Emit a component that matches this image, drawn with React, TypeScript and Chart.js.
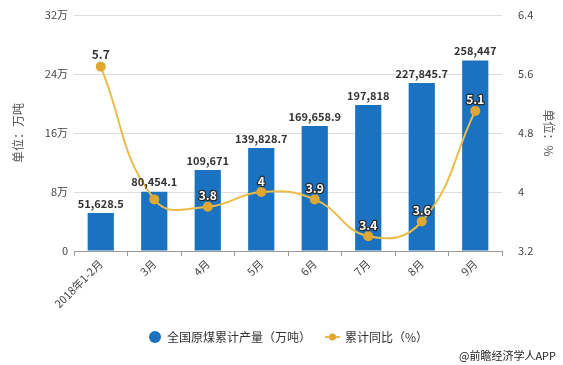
import React, { useEffect, useRef } from "react";
import { Chart, registerables } from "chart.js";

Chart.register(...registerables);

const categories = ["2018年1-2月", "3月", "4月", "5月", "6月", "7月", "8月", "9月"];
const output = [51628.5, 80454.1, 109671, 139828.7, 169658.9, 197818, 227845.7, 258447];
const outputLabels = ["51,628.5", "80,454.1", "109,671", "139,828.7", "169,658.9", "197,818", "227,845.7", "258,447"];
const growth = [5.7, 3.9, 3.8, 4, 3.9, 3.4, 3.6, 5.1];
const growthLabels = ["5.7", "", "3.8", "4", "3.9", "3.4", "3.6", "5.1"];
const leftTicks = [0, 80000, 160000, 240000, 320000];
const leftTickLabels = ["0", "8万", "16万", "24万", "32万"];
const rightTicks = [3.2, 4, 4.8, 5.6, 6.4];

const BLUE = "#1b72c0";
const YELLOW = "#ebbc4a";
const FONT = "'Noto Sans CJK SC', 'Noto Sans', sans-serif";

const overlay = {
  id: "overlay",
  afterDatasetsDraw(chart: any) {
    const ctx = chart.ctx;
    ctx.save();
    const barMeta = chart.getDatasetMeta(0);
    ctx.font = `bold 11px ${FONT}`;
    ctx.fillStyle = "#333";
    ctx.textAlign = "center";
    ctx.textBaseline = "bottom";
    barMeta.data.forEach((el: any, i: number) => {
      ctx.fillText(outputLabels[i], el.x, el.y - 4);
    });
    const lineMeta = chart.getDatasetMeta(1);
    ctx.font = `bold 12px ${FONT}`;
    lineMeta.data.forEach((el: any, i: number) => {
      const t = growthLabels[i];
      if (!t) return;
      if (i === 0) {
        ctx.fillStyle = "#333";
        ctx.fillText(t, el.x, el.y - 6);
      } else {
        ctx.lineWidth = 2.5;
        ctx.strokeStyle = "#2a2a2a";
        ctx.lineJoin = "round";
        ctx.strokeText(t, el.x, el.y - 5);
        ctx.fillStyle = "#fff";
        ctx.fillText(t, el.x, el.y - 5);
      }
    });
    ctx.restore();
  },
  afterDraw(chart: any) {
    const ctx = chart.ctx;
    ctx.save();
    const ly = 337;
    ctx.fillStyle = BLUE;
    ctx.beginPath();
    ctx.arc(155, ly, 6, 0, Math.PI * 2);
    ctx.fill();
    ctx.font = `12px ${FONT}`;
    ctx.fillStyle = "#333";
    ctx.textAlign = "left";
    ctx.textBaseline = "middle";
    ctx.fillText("全国原煤累计产量（万吨）", 167, ly);
    ctx.strokeStyle = YELLOW;
    ctx.lineWidth = 2;
    ctx.beginPath();
    ctx.moveTo(325, ly);
    ctx.lineTo(340, ly);
    ctx.stroke();
    ctx.fillStyle = "#e0a830";
    ctx.beginPath();
    ctx.arc(332.5, ly, 3.5, 0, Math.PI * 2);
    ctx.fill();
    ctx.fillStyle = "#333";
    ctx.fillText("累计同比（%）", 345, ly);
    ctx.font = `11px ${FONT}`;
    ctx.textAlign = "right";
    ctx.fillStyle = "#222";
    ctx.fillText("@前瞻经济学人APP", 556, 356);
    ctx.restore();
  },
};

export default function App() {
  const ref = useRef<HTMLCanvasElement>(null);
  useEffect(() => {
    if (!ref.current) return;
    const chart = new Chart(ref.current, {
      data: {
        labels: categories,
        datasets: [
          {
            type: "bar",
            label: "全国原煤累计产量（万吨）",
            data: output,
            backgroundColor: BLUE,
            yAxisID: "y",
            categoryPercentage: 1,
            barPercentage: 0.49,
            order: 2,
          },
          {
            type: "line",
            label: "累计同比(%)",
            data: growth,
            borderColor: YELLOW,
            borderWidth: 2,
            backgroundColor: "#e0a830",
            pointBackgroundColor: "#e0a830",
            pointBorderColor: "#e0a830",
            pointRadius: 4,
            tension: 0.45,
            yAxisID: "y1",
            order: 1,
          },
        ],
      } as any,
      options: {
        animation: false,
        responsive: false,
        maintainAspectRatio: false,
        layout: { padding: { top: 15, left: 0, right: 0, bottom: 0 } },
        plugins: { legend: { display: false }, tooltip: { enabled: false } },
        scales: {
          x: {
            grid: { display: true, drawOnChartArea: false, drawTicks: true, tickLength: 5, color: "#999" },
            border: { color: "#999" },
            ticks: {
              minRotation: 45,
              maxRotation: 45,
              color: "#444",
              font: { size: 11, family: FONT },
              padding: 1,
            },
            afterFit(s: any) {
              s.height = 114;
            },
          },
          y: {
            position: "left",
            min: 0,
            max: 320000,
            afterBuildTicks(s: any) {
              s.ticks = leftTicks.map((v) => ({ value: v }));
            },
            ticks: {
              color: "#444",
              font: { size: 11, family: FONT },
              padding: 6,
              callback: (_v: any, i: number) => leftTickLabels[i],
            },
            grid: { color: "#dddddd", drawTicks: false },
            border: { display: false },
            title: {
              display: true,
              text: "单位：万吨",
              color: "#555",
              font: { size: 12, family: FONT },
              padding: { top: 11, bottom: 4 },
            },
            afterFit(s: any) {
              s.width = 74;
            },
          },
          y1: {
            position: "right",
            min: 3.2,
            max: 6.4,
            afterBuildTicks(s: any) {
              s.ticks = rightTicks.map((v) => ({ value: v }));
            },
            ticks: {
              color: "#444",
              font: { size: 11, family: FONT },
              padding: 8,
              callback: (v: any) => String(Math.round(Number(v) * 10) / 10),
            },
            grid: { display: false },
            border: { display: false },
            title: {
              display: true,
              text: "单位：%",
              color: "#555",
              font: { size: 12, family: FONT },
              padding: { top: 7, bottom: 4 },
            },
            afterFit(s: any) {
              s.width = 61;
            },
          },
        },
      } as any,
      plugins: [overlay],
    });
    return () => chart.destroy();
  }, []);
  return (
    <div style={{ position: "fixed", left: 0, top: 0, width: 563, height: 365, background: "#fff" }}>
      <canvas ref={ref} width={563} height={365} style={{ width: 563, height: 365 }} />
    </div>
  );
}
